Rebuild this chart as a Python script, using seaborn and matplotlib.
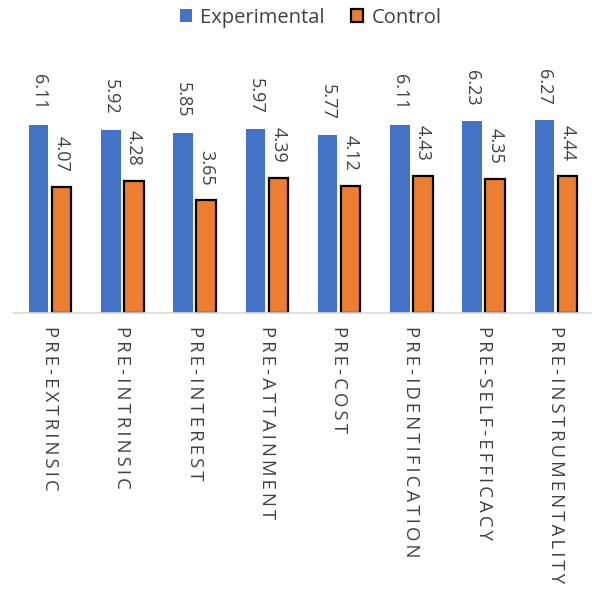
import pandas as pd
import numpy as np
import seaborn as sns
import matplotlib.pyplot as plt
from matplotlib.patches import Patch

# Data
categories = ['PRE-EXTRINSIC', 'PRE-INTRINSIC', 'PRE-INTEREST', 'PRE-ATTAINMENT',
              'PRE-COST', 'PRE-IDENTIFICATION', 'PRE-SELF-EFFICACY', 'PRE-INSTRUMENTALITY']
experimental = [6.11, 5.92, 5.85, 5.97, 5.77, 6.11, 6.23, 6.27]
control = [4.07, 4.28, 3.65, 4.39, 4.12, 4.43, 4.35, 4.44]
groups = ['Experimental', 'Control']

df = pd.DataFrame({
    'category': categories * 2,
    'group': ['Experimental'] * len(categories) + ['Control'] * len(categories),
    'score': experimental + control,
})

sns.set_style('white')
plt.rcParams['font.family'] = ['Open Sans', 'DejaVu Sans']

blue = '#4472C4'
orange = '#ED7D31'
text_col = '#404040'

fig = plt.figure(figsize=(5.92, 5.90), dpi=100)
ax = fig.add_axes([14 / 592, (590 - 313) / 590, 1 - 14 / 592, (313 - 40) / 590])

sns.barplot(data=df, x='category', y='score', hue='group', order=categories,
            hue_order=groups, palette=[blue, orange], saturation=1,
            width=0.64, gap=0.16, legend=False, ax=ax)

# black outline on the control bars only
for bar in ax.containers[1]:
    bar.set_edgecolor('black')
    bar.set_linewidth(1.6)
for bar in ax.containers[0]:
    bar.set_linewidth(0)

for cont in ax.containers:
    ax.bar_label(cont, fmt='%.2f', rotation=270, padding=11, fontsize=13,
                 color=text_col)

ax.set_ylim(0, 8.85)
ax.set_xlim(-0.5, len(categories) - 0.5)
ax.set_xlabel('')
ax.set_ylabel('')
ax.set_yticks([])
ax.tick_params(axis='x', length=0, pad=9)
ax.set_xticks(range(len(categories)))
# the original category axis uses wide letter spacing
spaced = ['\u2009'.join(c) for c in categories]
ax.set_xticklabels(spaced, rotation=270, va='top', ha='center',
                   fontsize=13.3, color=text_col)

for side in ['top', 'right', 'left']:
    ax.spines[side].set_visible(False)
ax.spines['bottom'].set_color('#D9D9D9')
ax.spines['bottom'].set_linewidth(1.2)

handles = [Patch(facecolor=blue, edgecolor=blue, linewidth=0, label='Experimental'),
           Patch(facecolor=orange, edgecolor='black', linewidth=1.6, label='Control')]
fig.legend(handles=handles, loc='upper center', bbox_to_anchor=(0.525, 1.018), ncol=2,
           frameon=False, fontsize=14.5, handlelength=0.6, handleheight=0.6,
           handletextpad=0.4, columnspacing=1.3, labelcolor=text_col)

fig.savefig('out.png', dpi=100)
